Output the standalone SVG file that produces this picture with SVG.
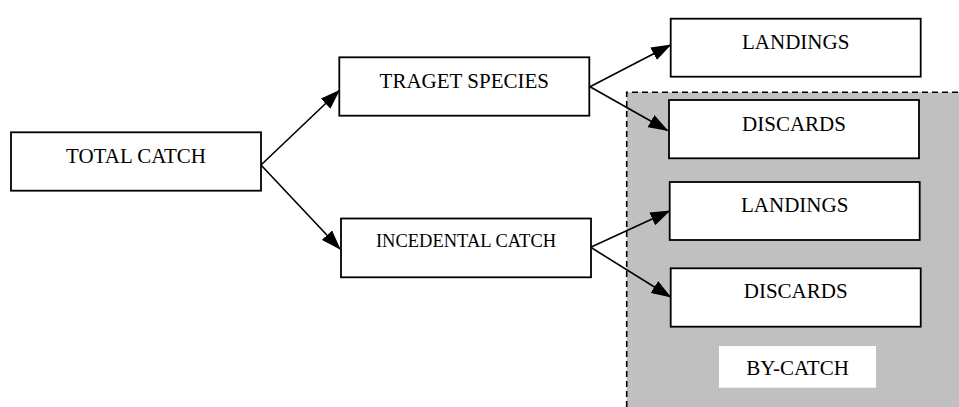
<svg xmlns="http://www.w3.org/2000/svg" width="959" height="407" viewBox="0 0 959 407">
<defs>
<marker id="arr" markerUnits="userSpaceOnUse" markerWidth="20" markerHeight="14" refX="19" refY="7" orient="auto">
<path d="M0,0 L20,7 L0,14 z" fill="#000"/>
</marker>
<style>
.box{fill:#fff;stroke:#000;stroke-width:1.8}
.t{font-family:"Liberation Serif","Times New Roman",serif;font-size:21px;fill:#000;text-anchor:middle}
.s{font-size:18.5px}
.c{stroke:#000;stroke-width:1.6;fill:none;marker-end:url(#arr)}
</style>
</defs>
<rect width="959" height="407" fill="#fff"/>
<g id="bycatch-area">
<rect x="626.7" y="92.3" width="340" height="330" fill="#c0c0c0"/>
<path d="M626.7,407 L626.7,92.3 L959,92.3" fill="none" stroke="#000" stroke-width="1.6" stroke-dasharray="6,4"/>
</g>
<g id="connectors">
<line class="c" x1="261" y1="165" x2="339.3" y2="90.5"/>
<line class="c" x1="261" y1="165" x2="340" y2="249"/>
<line class="c" x1="590" y1="86.7" x2="670.5" y2="45"/>
<line class="c" x1="590" y1="86.7" x2="667.5" y2="130.5"/>
<line class="c" x1="590.7" y1="247.3" x2="669.5" y2="211"/>
<line class="c" x1="590.7" y1="247.3" x2="670.5" y2="297"/>
</g>
<g id="total-catch">
<rect class="box" x="11" y="132.3" width="250" height="58.4"/>
<text class="t" x="136" y="162.7">TOTAL CATCH</text>
</g>
<g id="traget-species">
<rect class="box" x="339.3" y="57.3" width="250" height="58.4"/>
<text class="t" x="464.3" y="88.3">TRAGET SPECIES</text>
</g>
<g id="incedental-catch">
<rect class="box" x="341" y="218.5" width="250" height="58.8"/>
<text class="t s" x="466" y="247.3">INCEDENTAL CATCH</text>
</g>
<g id="landings-1">
<rect class="box" x="670.7" y="18.7" width="250" height="58"/>
<text class="t" x="795.7" y="49">LANDINGS</text>
</g>
<g id="discards-1">
<rect class="box" x="669" y="100" width="250" height="58.3"/>
<text class="t" x="794" y="130.7">DISCARDS</text>
</g>
<g id="landings-2">
<rect class="box" x="669.7" y="182" width="250" height="58"/>
<text class="t" x="794.7" y="211.7">LANDINGS</text>
</g>
<g id="discards-2">
<rect class="box" x="670.7" y="268.3" width="250" height="58.4"/>
<text class="t" x="795.7" y="298">DISCARDS</text>
</g>
<g id="by-catch-label">
<rect x="719" y="346" width="157" height="41.7" fill="#fff"/>
<text class="t" x="797.5" y="375">BY-CATCH</text>
</g>
</svg>
